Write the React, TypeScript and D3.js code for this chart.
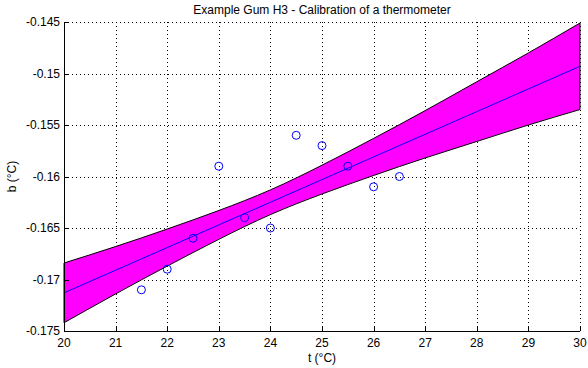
import React from 'react'
import * as d3 from 'd3'

const width = 588
const height = 368
const margin = { top: 22, right: 8, bottom: 37, left: 64 }

const title = 'Example Gum H3 - Calibration of a thermometer'
const xLabel = 't (°C)'
const yLabel = 'b (°C)'

// measured points
const tObs = [21.5, 22, 22.5, 23, 23.5, 24, 24.5, 25, 25.5, 26, 26.5]
const bObs = [-0.171, -0.169, -0.166, -0.159, -0.164, -0.165, -0.156, -0.157, -0.159, -0.161, -0.16]

// fitted line and its band, read at each degree
const tGrid = [20, 21, 22, 23, 24, 25, 26, 27, 28, 29, 30]
const bFit = [-0.1713, -0.1691, -0.1669, -0.1647, -0.1625, -0.1603, -0.1581, -0.1559, -0.1537, -0.1515, -0.1493]
const bUpper = [-0.1684, -0.1668, -0.1651, -0.1633, -0.1613, -0.1589, -0.1563, -0.1536, -0.1508, -0.148, -0.1451]
const bLower = [-0.1742, -0.1714, -0.1687, -0.1661, -0.1637, -0.1617, -0.1599, -0.1582, -0.1566, -0.155, -0.1535]

const xTicks = [20, 21, 22, 23, 24, 25, 26, 27, 28, 29, 30]
const yTicks = [-0.175, -0.17, -0.165, -0.16, -0.155, -0.15, -0.145]
const yTickLabels = ['-0.175', '-0.17', '-0.165', '-0.16', '-0.155', '-0.15', '-0.145']

const font = '"Liberation Sans", Arial, Helvetica, sans-serif'

export default function App() {
	const x = d3.scaleLinear().domain([20, 30]).range([margin.left, width - margin.right])
	const y = d3.scaleLinear().domain([-0.175, -0.145]).range([height - margin.bottom, margin.top])
	const [x0, x1] = x.range()
	const [y0, y1] = y.range()

	const band = tGrid.map((t, i) => ({ t, lo: bLower[i], hi: bUpper[i] }))
	const area = d3.area<{ t: number, lo: number, hi: number }>()
		.x(d => x(d.t))
		.y0(d => y(d.lo))
		.y1(d => y(d.hi))
		.curve(d3.curveNatural)
	const fitLine = d3.line<number>()
		.x((d, i) => x(tGrid[i]))
		.y(d => y(d))

	const tick = 5

	return (
		<svg width={width} height={height} style={{ position: 'absolute', left: 0, top: 0, background: 'white' }}
			fontFamily={font}>
			<text x={(x0 + x1) / 2} y={14} textAnchor="middle" fontSize={12}>{title}</text>

			{/* grid */}
			<g stroke="black" strokeWidth={1} strokeDasharray="1,3">
				{xTicks.filter(t => t !== 20).map(t => (
					<line key={'gx' + t} x1={Math.round(x(t)) + 0.5} x2={Math.round(x(t)) + 0.5} y1={y0} y2={y1} />
				))}
				{yTicks.filter(t => t !== -0.175).map(t => (
					<line key={'gy' + t} x1={x0} x2={x1} y1={Math.round(y(t)) + 0.5} y2={Math.round(y(t)) + 0.5} />
				))}
			</g>

			{/* confidence band */}
			<path d={area(band) || ''} fill="#ff00ff" stroke="black" strokeWidth={1} />
			<path d={fitLine(bFit) || ''} fill="none" stroke="#0000ff" strokeWidth={1} />

			{tObs.map((t, i) => (
				<circle key={'p' + i} cx={x(t)} cy={y(bObs[i])} r={4} fill="none" stroke="#0000ff" strokeWidth={1} />
			))}

			{/* axes */}
			<g stroke="black" strokeWidth={1}>
				<line x1={x0} x2={x1} y1={y0 + 0.5} y2={y0 + 0.5} />
				<line x1={x0 + 0.5} x2={x0 + 0.5} y1={y0} y2={y1} />
				{xTicks.map(t => (
					<line key={'tx' + t} x1={Math.round(x(t)) + 0.5} x2={Math.round(x(t)) + 0.5} y1={y0} y2={y0 - tick} />
				))}
				{yTicks.map(t => (
					<line key={'ty' + t} x1={x0} x2={x0 + tick} y1={Math.round(y(t)) + 0.5} y2={Math.round(y(t)) + 0.5} />
				))}
			</g>
			<g fontSize={12}>
				{xTicks.map(t => (
					<text key={'lx' + t} x={x(t)} y={y0 + 16} textAnchor="middle">{t}</text>
				))}
				{yTicks.map((t, i) => (
					<text key={'ly' + t} x={x0 - 4} y={y(t) + 4} textAnchor="end">{yTickLabels[i]}</text>
				))}
			</g>
			<text x={(x0 + x1) / 2} y={y0 + 31} textAnchor="middle" fontSize={12}>{xLabel}</text>
			<text transform={`translate(16,${(y0 + y1) / 2}) rotate(-90)`} textAnchor="middle" fontSize={12}>{yLabel}</text>
		</svg>
	)
}
